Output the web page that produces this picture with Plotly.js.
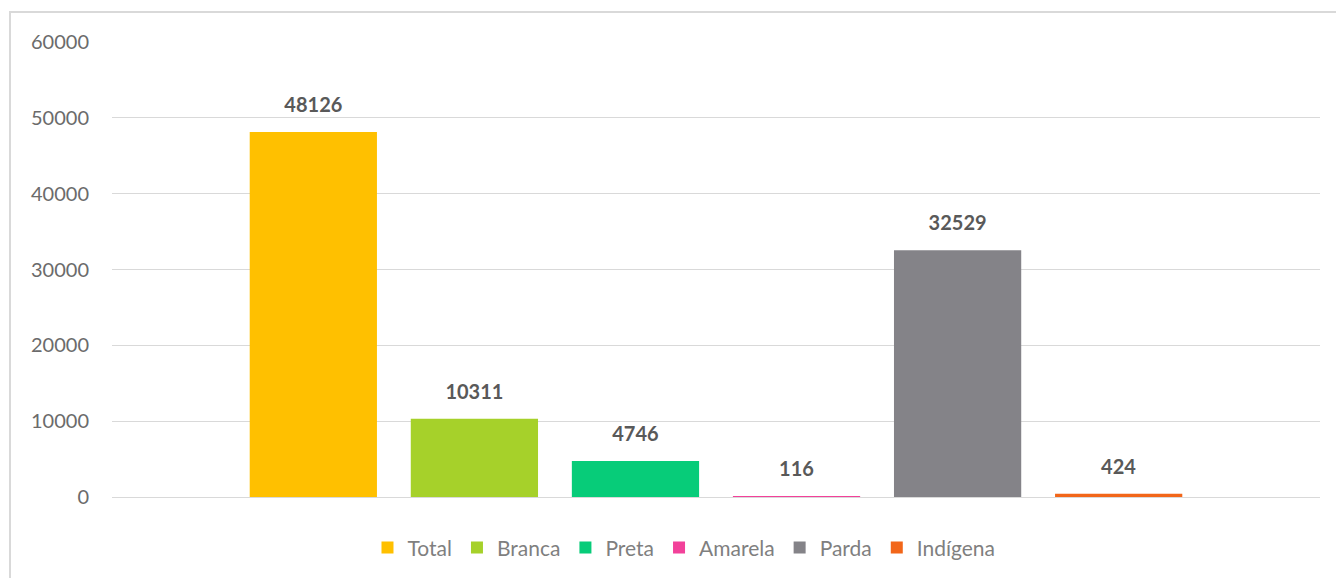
<!DOCTYPE html>
<html>
<head>
<meta charset="utf-8">
<script src="https://cdn.plot.ly/plotly-3.0.1.min.js"></script>
<style>
html,body{margin:0;padding:0;background:#fff;overflow:hidden;}
#frame{position:absolute;left:9px;top:11px;width:1400px;height:700px;border-left:2px solid #d9d9d9;border-top:2px solid #d9d9d9;pointer-events:none;}
#chart{position:absolute;left:0;top:0;width:1336px;height:578px;}
</style>
</head>
<body>
<div id="chart"></div>
<div id="frame"></div>
<script>
const seriesNames = ["Total", "Branca", "Preta", "Amarela", "Parda", "Indígena"];
const seriesValues = [48126, 10311, 4746, 116, 32529, 424];
const seriesColors = ["#FFC000", "#A6D12A", "#07CC79", "#F2419A", "#848388", "#F26619"];
const category = [""];
const yTicks = [0, 10000, 20000, 30000, 40000, 50000, 60000];

const FONT = "Lato, 'Open Sans', sans-serif";

const traces = seriesNames.map((name, i) => ({
  type: "bar",
  name: name,
  x: category,
  y: [seriesValues[i]],
  marker: {color: seriesColors[i]},
  text: [String(seriesValues[i])],
  texttemplate: "%{text}",
  textposition: "outside",
  cliponaxis: false,
  textfont: {family: FONT, size: 20, color: "#595959", weight: "bold"},
  hoverinfo: "skip"
}));

const layout = {
  width: 1336,
  height: 578,
  margin: {l: 112, r: 16, t: 42, b: 81},
  paper_bgcolor: "rgba(0,0,0,0)",
  plot_bgcolor: "#fff",
  barmode: "group",
  bargap: 0.2,
  bargroupgap: 0.21,
  showlegend: true,
  legend: {
    orientation: "h",
    xref: "paper", x: 0.4735, xanchor: "center",
    yref: "container", y: 0.052, yanchor: "middle",
    font: {family: FONT, size: 21, color: "#7f7f7f"},
    itemwidth: 30,
    traceorder: "normal"
  },
  xaxis: {
    type: "category",
    showticklabels: false,
    showgrid: false,
    zeroline: false,
    showline: false,
    ticks: ""
  },
  yaxis: {
    range: [0, 60000],
    tickvals: yTicks,
    ticktext: yTicks.map(String),
    showgrid: true,
    gridcolor: "#d9d9d9",
    gridwidth: 1,
    zeroline: true,
    zerolinecolor: "#d9d9d9",
    zerolinewidth: 1,
    showline: false,
    ticks: "",
    ticklabelstandoff: 22,
    tickfont: {family: FONT, size: 20, color: "#6b6b6b"}
  },
  font: {family: FONT}
};

Plotly.newPlot("chart", traces, layout, {displayModeBar: false, staticPlot: true}).then(function (gd) {
  // lift the value labels a little further above their bars, as in the reference
  gd.querySelectorAll(".bars .point text").forEach(function (t) {
    const tr = t.getAttribute("transform") || "";
    t.setAttribute("transform", "translate(0,-13) " + tr);
  });
});
</script>
</body>
</html>
